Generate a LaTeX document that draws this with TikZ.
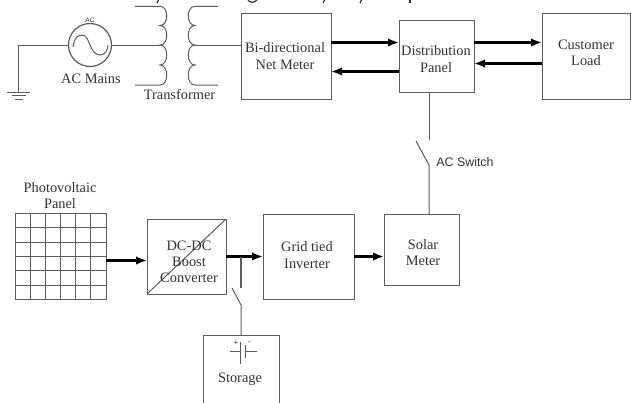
\documentclass[tikz,border=0pt]{standalone}
\usepackage{fontspec}
\setmainfont{Liberation Serif}
\setsansfont{Liberation Sans}
\usetikzlibrary{arrows.meta}
\definecolor{ln}{gray}{0.36}
\definecolor{tx}{gray}{0.2}
\tikzset{
  box/.style={draw=ln,line width=1pt,rectangle,inner sep=0pt,outer sep=0pt},
  wire/.style={draw=ln,line width=1pt},
  power/.style={draw=black,line width=2.3pt,-{Latex[length=11pt,width=8.5pt]}},
  lbl/.style={text=tx,font=\fontsize{14.4}{16}\selectfont,align=center,inner sep=0pt},
  sanslbl/.style={text=tx,font=\sffamily\fontsize{12.4}{14}\selectfont,inner sep=0pt},
  small/.style={text=tx,inner sep=0pt,font=\sffamily\fontsize{6.5}{7}\selectfont},
  frag/.style={draw=black!80,line width=1.2pt}
}
\begin{document}
\begin{tikzpicture}[x=1pt,y=-1pt]
\useasboundingbox (0,0) rectangle (631,402);
% boxes
\node[box,minimum width=90pt,minimum height=86pt] (net) at (286,56) {};
\node[box,minimum width=75pt,minimum height=72pt] (dist) at (436.5,56) {};
\node[box,minimum width=88pt,minimum height=86pt] (load) at (586,56) {};
\node[box,minimum width=75pt,minimum height=71pt] (solar) at (421.5,249.5) {};
\node[box,minimum width=91pt,minimum height=85pt] (grid) at (308.5,256.5) {};
\node[box,minimum width=79pt,minimum height=75pt] (dc) at (186.5,256.5) {};
\node[box,minimum width=91pt,minimum height=86pt] (pv) at (60.5,256) {};
% storage box, its bottom is cut off by the picture edge
\coordinate (stTL) at (203,335);
\coordinate (stTR) at (279,335);
\coordinate (stBL) at (203,403);
\coordinate (stBR) at (279,403);
\draw[wire] (stBL) -- (stTL) -- (stTR) -- (stBR);
% PV grid
\foreach \gx in {30.3,45.3,60.3,75.3,90.3} \draw[wire] (\gx,213) -- (\gx,299);
\foreach \gy in {227.7,242,256.3,270.7,285} \draw[wire] (15,\gy) -- (106,\gy);
% converter diagonal
\draw[wire] (dc.south west) -- (dc.north east);
% labels
\node[lbl] (tnet) at (285,56.5) {Bi-directional\\[1pt]Net Meter};
\node[lbl] (tdist) at (436,59.5) {Distribution\\[1pt]Panel};
\node[lbl] (tload) at (586,53) {Customer\\[0pt]Load};
\node[lbl] (tsolar) at (423,252.5) {Solar\\[0pt]Meter};
\node[lbl] (tgrid) at (307,255.5) {Grid tied\\[1pt]Inverter};
\node[lbl] (tdc) at (189,262) {DC-DC\\[0pt]Boost\\[0pt]Converter};
\node[lbl] (tpv) at (60,196) {Photovoltaic\\[0pt]Panel};
\node[lbl] (tst) at (240,379) {Storage};
\node[lbl] (tmains) at (91,79) {AC Mains};
\node[lbl] (ttr) at (179.5,94) {Transformer};
\node[sanslbl] (tsw) at (465,162) {AC Switch};
% power arrows
\draw[power] (net.east |- 0,42.5) -- (dist.west |- 0,42.5);
\draw[power] (dist.west |- 0,71.5) -- (net.east |- 0,71.5);
\draw[power] (dist.east |- 0,42.5) -- (load.west |- 0,42.5);
\draw[power] (load.west |- 0,63.5) -- (dist.east |- 0,63.5);
\draw[power] (pv.east |- 0,260.5) -- (dc.west |- 0,260.5);
\draw[power] (dc.east |- 0,256.5) -- (grid.west |- 0,256.5);
\draw[power] (grid.east |- 0,256.5) -- (solar.west |- 0,256.5);
% AC switch
\coordinate (swTop) at (429,140);
\coordinate (swPiv) at (429,165);
\coordinate (swEnd) at (416,141);
\draw[wire] (dist.south -| swTop) -- (swTop);
\draw[wire] (swEnd) -- (swPiv) -- (solar.north -| swPiv);
% storage switch
\coordinate (ssTap) at (241,256.5);
\coordinate (ssTop) at (241,288);
\coordinate (ssPiv) at (241,305);
\coordinate (ssEnd) at (232,288);
\draw[wire,line width=1.3pt] (ssTap) -- (ssTop);
\draw[wire] (ssEnd) -- (ssPiv) -- (ssPiv |- stTL);
% battery
\coordinate (batL) at (229.5,351);
\coordinate (batA) at (240.5,351);
\coordinate (batB) at (245,351);
\coordinate (batR) at (257,351);
\draw[wire] (batL) -- (batA) (batB) -- (batR);
\draw[wire] (240.5,342) -- (240.5,364);
\draw[wire] (245,345) -- (245,358);
\node[small,font=\sffamily\fontsize{8}{8}\selectfont] (bplus) at (236,343.5) {+};
\node[small,font=\sffamily\fontsize{8}{8}\selectfont] (bminus) at (249.5,343) {-};
% AC source
\node[draw=ln,line width=1.2pt,circle,minimum size=43pt,inner sep=0pt,outer sep=0pt] (src) at (90,45) {};
\node[small] (tac) at (90,20.5) {AC};
\draw[wire] (73,47) .. controls (74,38) and (78,35) .. (82,35) .. controls (87,35) and (88,41) .. (90,45)
  .. controls (92,50) and (95,55) .. (100,55) .. controls (105,55) and (108,50) .. (108,45);
% ground
\coordinate (gnd) at (18.7,92);
\draw[wire] (src.west) -- (18.7,45) -- (gnd);
\draw[wire] (7.3,92) -- (30.3,92);
\draw[wire] (11.5,95.5) -- (26,95.5);
\draw[wire] (15,99) -- (23,99);
% transformer
\coordinate (prim) at (160,45);
\coordinate (sec) at (195,45);
\draw[wire] (src.east) -- (prim);
\draw[wire] (sec) -- (net.west |- sec);
\draw[wire] (135,6.3) -- (160,6.3)
  .. controls (169,6.3) and (169,25.5) .. (160,25.5)
  .. controls (169,25.5) and (169,45) .. (prim)
  .. controls (169,45) and (169,65) .. (160,65)
  .. controls (169,65) and (169,85) .. (160,85) -- (135,85);
\draw[wire] (218,6.3) -- (195,6.3)
  .. controls (186,6.3) and (186,25.5) .. (195,25.5)
  .. controls (186,25.5) and (186,45) .. (sec)
  .. controls (186,45) and (186,65) .. (195,65)
  .. controls (186,65) and (186,85) .. (195,85) -- (218,85);
% cropped heading fragments at the top edge
\draw[frag] (159,-1) -- (157,3);
\draw[frag] (248,0) .. controls (250,3) and (254,3) .. (257,0);
\draw[frag] (325,-1) -- (323,3);
\draw[frag] (362,-1) -- (360,3);
\draw[frag] (410,-1) -- (410,3);
\end{tikzpicture}
\end{document}
